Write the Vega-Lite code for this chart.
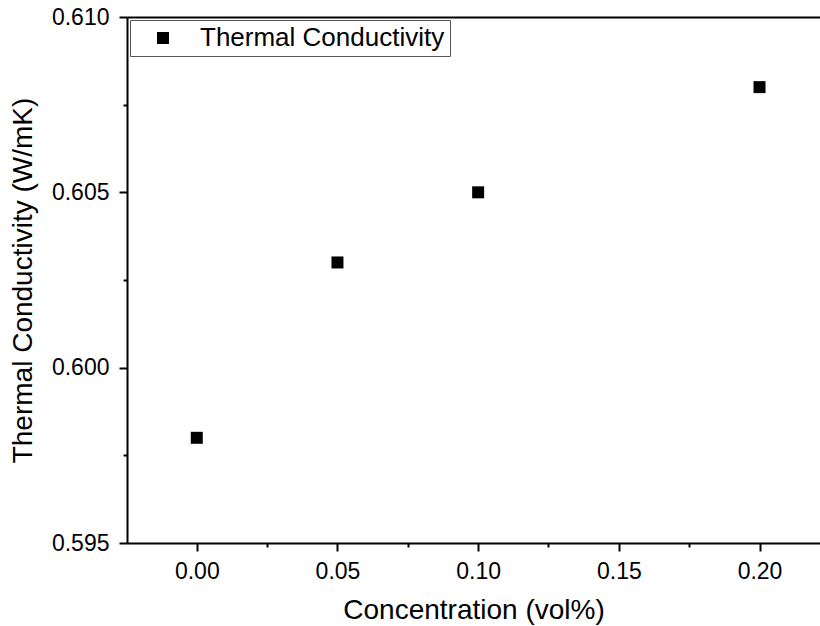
{
  "$schema": "https://vega.github.io/schema/vega-lite/v6.json",
  "width": 693,
  "height": 526,
  "autosize": {"type": "none"},
  "padding": {"left": 127, "top": 17, "right": 0, "bottom": 83},
  "config": {
    "view": {"stroke": null},
    "font": "Liberation Sans",
    "axis": {
      "domainColor": "black",
      "domainWidth": 2,
      "tickColor": "black",
      "tickWidth": 2,
      "labelColor": "black",
      "titleColor": "black",
      "labelFont": "Liberation Sans",
      "titleFont": "Liberation Sans",
      "labelFontSize": 23,
      "titleFontSize": 28,
      "titleFontWeight": "normal",
      "grid": false
    }
  },
  "data": {
    "values": [
      {"concentration": 0.0, "k": 0.598, "series": "Thermal Conductivity"},
      {"concentration": 0.05, "k": 0.603, "series": "Thermal Conductivity"},
      {"concentration": 0.1, "k": 0.605, "series": "Thermal Conductivity"},
      {"concentration": 0.2, "k": 0.608, "series": "Thermal Conductivity"}
    ]
  },
  "layer": [
    {
      "mark": {"type": "point", "shape": "square", "filled": true, "size": 144, "opacity": 1},
      "encoding": {
        "x": {
          "field": "concentration", "type": "quantitative",
          "scale": {"domain": [-0.0248, 0.2215], "nice": false, "zero": false},
          "axis": {
            "orient": "bottom", "values": [0, 0.05, 0.1, 0.15, 0.2], "format": ".2f",
            "tickSize": 8, "labelPadding": 9, "labelFlush": false,
            "title": "Concentration (vol%)", "titlePadding": 13
          }
        },
        "y": {
          "field": "k", "type": "quantitative",
          "scale": {"domain": [0.595, 0.61], "nice": false, "zero": false},
          "axis": {
            "orient": "left", "values": [0.595, 0.6, 0.605, 0.61], "format": ".3f",
            "tickSize": 8, "labelPadding": 10, "labelFlush": false,
            "title": "Thermal Conductivity (W/mK)", "titlePadding": 14
          }
        },
        "color": {
          "field": "series", "type": "nominal",
          "scale": {"range": ["black"]},
          "legend": {
            "title": null,
            "orient": "none",
            "legendX": 3,
            "legendY": 3,
            "padding": 5,
            "fillColor": "white",
            "strokeColor": "#555555",
            "symbolType": "square",
            "symbolSize": 144,
            "symbolFillColor": "black",
            "symbolStrokeWidth": 0,
            "symbolOffset": 15,
            "labelOffset": 24,
            "labelFontSize": 26,
            "labelLimit": 600,
            "labelColor": "black",
            "labelFont": "Liberation Sans"
          }
        },
        "shape": {"value": "square"}
      }
    },
    {
      "mark": {"type": "point", "opacity": 0},
      "encoding": {
        "x": {
          "field": "concentration", "type": "quantitative",
          "scale": {"domain": [-0.0248, 0.2215], "nice": false, "zero": false},
          "axis": {"orient": "bottom", "values": [0.025, 0.075, 0.125, 0.175], "labels": false, "domain": false, "tickSize": 4, "title": null}
        },
        "y": {
          "field": "k", "type": "quantitative",
          "scale": {"domain": [0.595, 0.61], "nice": false, "zero": false},
          "axis": {"orient": "left", "values": [0.5975, 0.6025, 0.6075], "labels": false, "domain": false, "tickSize": 4, "title": null}
        }
      }
    },
    {
      "mark": {"type": "point", "opacity": 0},
      "encoding": {
        "x": {
          "field": "concentration", "type": "quantitative",
          "scale": {"domain": [-0.0248, 0.2215], "nice": false, "zero": false},
          "axis": {"orient": "top", "labels": false, "ticks": false, "domain": true, "title": null}
        },
        "y": {
          "field": "k", "type": "quantitative",
          "scale": {"domain": [0.595, 0.61], "nice": false, "zero": false},
          "axis": null
        }
      }
    }
  ],
  "resolve": {"axis": {"x": "independent", "y": "independent"}}
}
